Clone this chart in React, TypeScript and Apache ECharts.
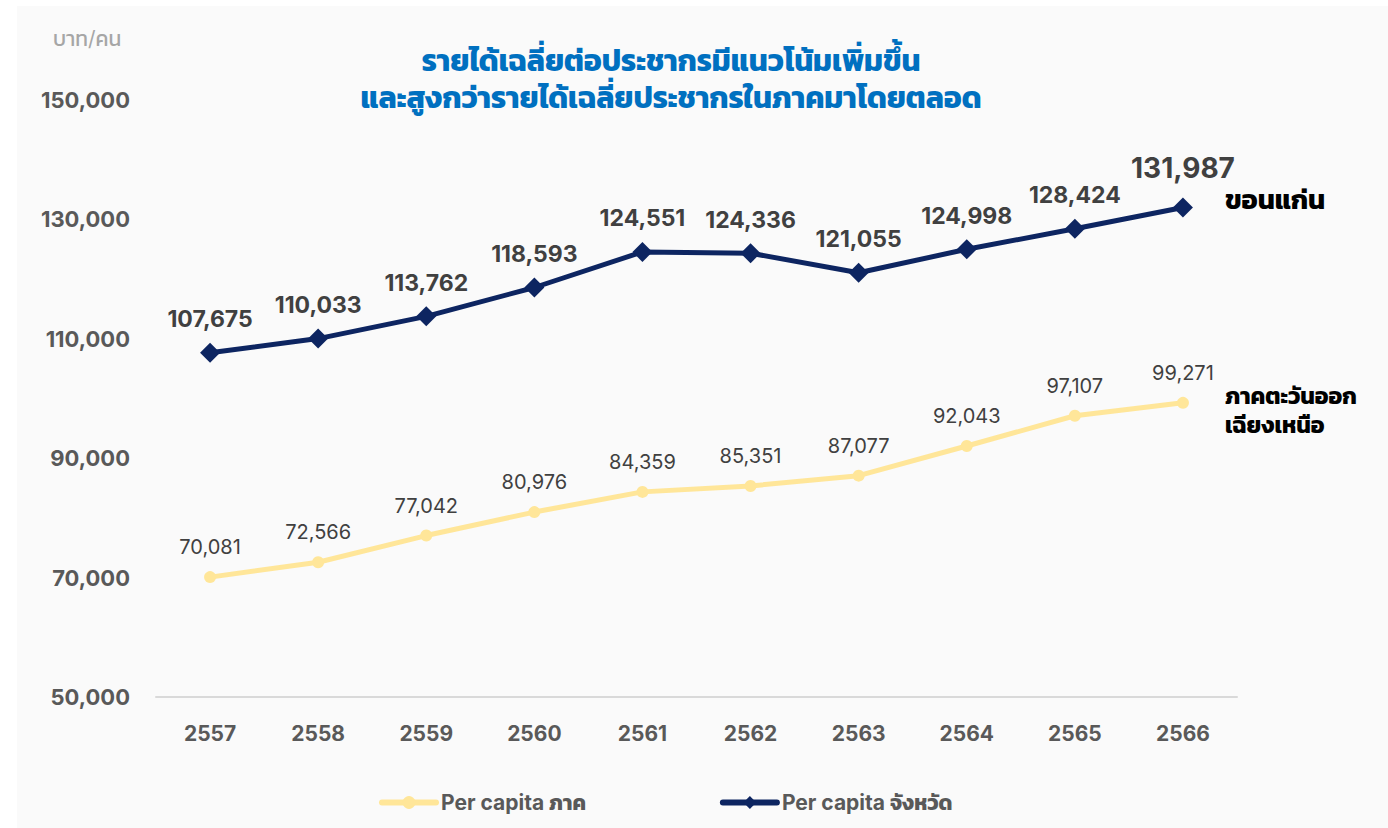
import React, { useEffect, useRef } from "react";
import * as echarts from "echarts";

const years = ["2557", "2558", "2559", "2560", "2561", "2562", "2563", "2564", "2565", "2566"];
const provinceValues = [107675, 110033, 113762, 118593, 124551, 124336, 121055, 124998, 128424, 131987];
const regionValues = [70081, 72566, 77042, 80976, 84359, 85351, 87077, 92043, 97107, 99271];
const provinceName = "Per capita จังหวัด";
const regionName = "Per capita ภาค";
const provinceEndLabel = "ขอนแก่น";
const regionEndLabel = "ภาคตะวันออก\nเฉียงเหนือ";
const titleText = "รายได้เฉลี่ยต่อประชากรมีแนวโน้มเพิ่มขึ้น\nและสูงกว่ารายได้เฉลี่ยประชากรในภาคมาโดยตลอด";
const unitText = "บาท/คน";

const FONT = "Inter, Kanit, Prompt, 'Noto Sans', sans-serif";
const fmt = (v: number) => v.toLocaleString("en-US");

export default function App() {
  const ref = useRef<HTMLDivElement>(null);
  useEffect(() => {
    if (!ref.current) return;
    const chart = echarts.init(ref.current, null, { renderer: "svg" });
    const lastIdx = provinceValues.length - 1;
    chart.setOption({
      animation: false,
      backgroundColor: "#fafafa",
      textStyle: { fontFamily: FONT },
      title: {
        text: titleText,
        left: 649,
        top: 30,
        textAlign: "center",
        textStyle: { fontSize: 30, lineHeight: 37, fontWeight: "bold", color: "#0070C0", fontFamily: FONT },
      },
      graphic: [
        {
          type: "text",
          left: 36,
          top: 22,
          style: { text: unitText, fontSize: 21, fill: "#a6a6a6", fontFamily: FONT },
        },
      ],
      legend: {
        bottom: 10,
        left: 357,
        itemWidth: 54,
        itemHeight: 16,
        itemGap: 134,
        data: [regionName, provinceName],
        lineStyle: { width: 6, cap: "round" },
        textStyle: { fontSize: 21, fontWeight: "bold", color: "#595959", fontFamily: FONT },
      },
      grid: { left: 139, right: 151, top: 94, bottom: 131 },
      xAxis: {
        type: "category",
        data: years,
        boundaryGap: true,
        axisLine: { lineStyle: { color: "#d9d9d9", width: 2 } },
        axisTick: { show: false },
        axisLabel: { margin: 26, fontSize: 21, fontWeight: "bold", color: "#595959", fontFamily: FONT },
      },
      yAxis: {
        type: "value",
        min: 50000,
        max: 150000,
        interval: 20000,
        splitLine: { show: false },
        axisLine: { show: false },
        axisTick: { show: false },
        axisLabel: {
          margin: 26,
          fontSize: 22,
          fontWeight: "bold",
          color: "#595959",
          fontFamily: FONT,
          formatter: (v: number) => fmt(v),
        },
      },
      series: [
        {
          name: regionName,
          type: "line",
          data: regionValues,
          symbol: "circle",
          symbolSize: 12,
          lineStyle: { color: "#FFE699", width: 5 },
          itemStyle: { color: "#FFE699" },
          label: {
            show: true,
            position: "top",
            distance: 14,
            fontSize: 20,
            color: "#404040",
            fontFamily: FONT,
            formatter: (p: any) => fmt(p.value),
          },
          endLabel: {
            show: true,
            formatter: regionEndLabel,
            distance: 36,
            offset: [6, 8],
            fontSize: 23,
            lineHeight: 29,
            fontWeight: "bold",
            color: "#000",
            fontFamily: FONT,
          },
        },
        {
          name: provinceName,
          type: "line",
          data: provinceValues.map((v, i) =>
            i === lastIdx
              ? { value: v, label: { fontSize: 28, distance: 16 } }
              : v
          ),
          symbol: "diamond",
          symbolSize: 20,
          lineStyle: { color: "#0D2561", width: 5 },
          itemStyle: { color: "#0D2561" },
          label: {
            show: true,
            position: "top",
            distance: 12,
            fontSize: 23,
            fontWeight: "bold",
            color: "#404040",
            fontFamily: FONT,
            formatter: (p: any) => fmt(p.value),
          },
          endLabel: {
            show: true,
            formatter: provinceEndLabel,
            distance: 36,
            offset: [6, -8],
            fontSize: 27,
            fontWeight: "bold",
            color: "#000",
            fontFamily: FONT,
          },
        },
      ],
    });
    return () => chart.dispose();
  }, []);
  return (
    <div
      ref={ref}
      style={{ position: "absolute", left: 17, top: 6, width: 1371, height: 822 }}
    />
  );
}
